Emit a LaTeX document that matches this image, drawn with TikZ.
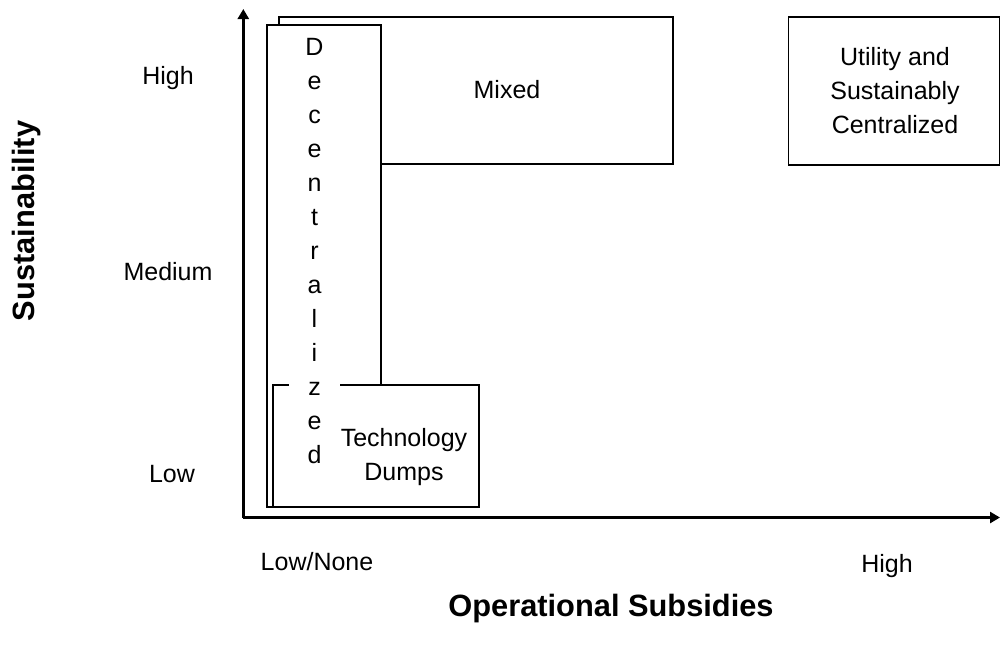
\documentclass[tikz,border=0pt]{standalone}
\usepackage{fontspec}
\setmainfont{Liberation Sans}
\usetikzlibrary{arrows.meta}

\begin{document}
\begin{tikzpicture}[x=1pt,y=-1pt,
    box/.style={draw, line width=1.8pt, fill=white, inner sep=0pt},
    lbl/.style={font=\fontsize{25}{34}\selectfont, align=center},
    ttl/.style={font=\fontsize{30.8}{36}\selectfont\bfseries},
    axis/.style={line width=2.5pt, -{Triangle[length=10pt,width=11pt]}}]

    \useasboundingbox (0,0) rectangle (1000,653);

    % boxes
    \node[box, minimum width=394, minimum height=147.3] (mixed)   at (476,90.4) {};
    \node[box, minimum width=211, minimum height=148]   (utility) at (894,90.6) {};
    \node[box, minimum width=114, minimum height=482]   (decent)  at (324,266)  {};
    \node[box, minimum width=206, minimum height=122]   (dumps)   at (376,446)  {};

    \node[lbl, fill=white, text width=51pt, inner xsep=0pt] (decenttxt) at (314.5,251)
        {D\\e\\c\\e\\n\\t\\r\\a\\l\\i\\z\\e\\d};
    \node[lbl] (mixedtxt)   at (507,90)  {Mixed};
    \node[lbl] (utilitytxt) at (895,91)  {Utility and\\Sustainably\\Centralized};
    \node[lbl] (dumpstxt)   at (404,457) {Technology\\Dumps};

    % axes
    \coordinate (origin) at (243.3,517.5);
    \coordinate (ytip)   at (243.3,9);
    \coordinate (xtip)   at (1000,517.5);
    \draw[axis] (origin) -- (ytip);
    \draw[axis] (origin) -- (xtip);

    % axis labels
    \node[lbl] (yhigh)  at (168,78)  {High};
    \node[lbl] (ymed)   at (168,272) {Medium};
    \node[lbl] (ylow)   at (172,474) {Low};
    \node[lbl] (xlow)   at (317,562) {Low/None};
    \node[lbl] (xhigh)  at (887,566) {High};

    \node[ttl, rotate=90] (ytitle) at (27,221) {Sustainability};
    \node[ttl] (xtitle) at (611,609) {Operational Subsidies};
\end{tikzpicture}
\end{document}
